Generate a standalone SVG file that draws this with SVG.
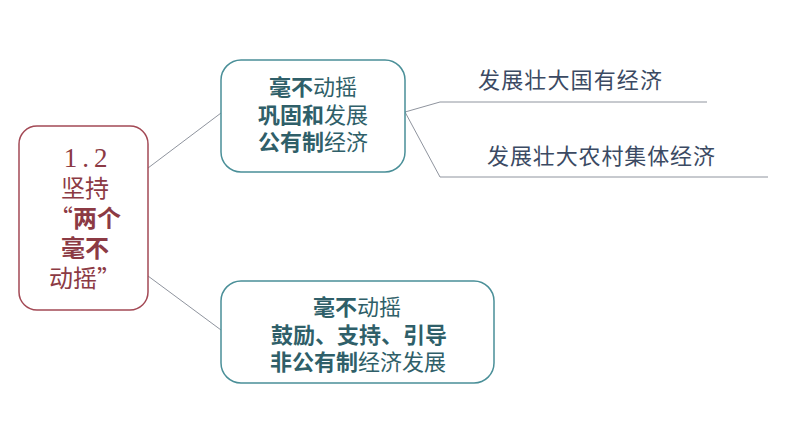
<svg xmlns="http://www.w3.org/2000/svg" width="794" height="447" viewBox="0 0 794 447">
<style>
.bg{fill:#ffffff}
.red{fill:#ffffff;stroke:#a34955;stroke-width:1.5}
.teal{fill:#ffffff;stroke:#4a8f98;stroke-width:1.5}
.t{font-family:"Noto Sans CJK SC","Noto Sans",sans-serif;font-size:22px;text-anchor:middle}
.tr{fill:#8c3a44;font-size:24px}
.tt{fill:#2f5f69}
.tb{font-weight:bold}
.tl{fill:#3b4a63;text-anchor:start}
.num{font-family:"Liberation Serif","DejaVu Serif",serif;font-size:27px;letter-spacing:5px}
.c{fill:none;stroke:#8f949e;stroke-width:1}
</style>
<rect class="bg" x="0" y="0" width="794" height="447"/>
<g id="connectors">
<path class="c" d="M148,168 L221,113"/>
<path class="c" d="M148,276 L221,330"/>
<path class="c" d="M405,112 L440,102 L707,102"/>
<path class="c" d="M405,112 L440,177 L768,177"/>
</g>
<g id="node-root">
<rect class="red" x="19" y="126" width="129" height="184" rx="18"/>
<text class="t tr"><tspan class="num" x="88" y="167">1.2</tspan><tspan x="85" y="197">坚持</tspan><tspan x="85" y="227">“<tspan class="tb">两个</tspan></tspan><tspan class="tb" x="85" y="257">毫不</tspan><tspan x="85" y="287">动摇”</tspan></text>
</g>
<g id="node-public">
<rect class="teal" x="221" y="60" width="184" height="112" rx="20"/>
<text class="t tt"><tspan x="313" y="95"><tspan class="tb">毫不</tspan>动摇</tspan><tspan x="313" y="123"><tspan class="tb">巩固和</tspan>发展</tspan><tspan x="313" y="150"><tspan class="tb">公有制</tspan>经济</tspan></text>
</g>
<g id="node-nonpublic">
<rect class="teal" x="221" y="281" width="273" height="102" rx="20"/>
<text class="t tt"><tspan x="357" y="315"><tspan class="tb">毫不</tspan>动摇</tspan><tspan class="tb" x="359" y="343">鼓励、支持、引导</tspan><tspan x="358" y="370"><tspan class="tb">非公有制</tspan>经济发展</tspan></text>
</g>
<g id="node-state">
<text class="t tl" x="478" y="88" textLength="184">发展壮大国有经济</text>
</g>
<g id="node-rural">
<text class="t tl" x="487" y="164" textLength="228">发展壮大农村集体经济</text>
</g>
</svg>
